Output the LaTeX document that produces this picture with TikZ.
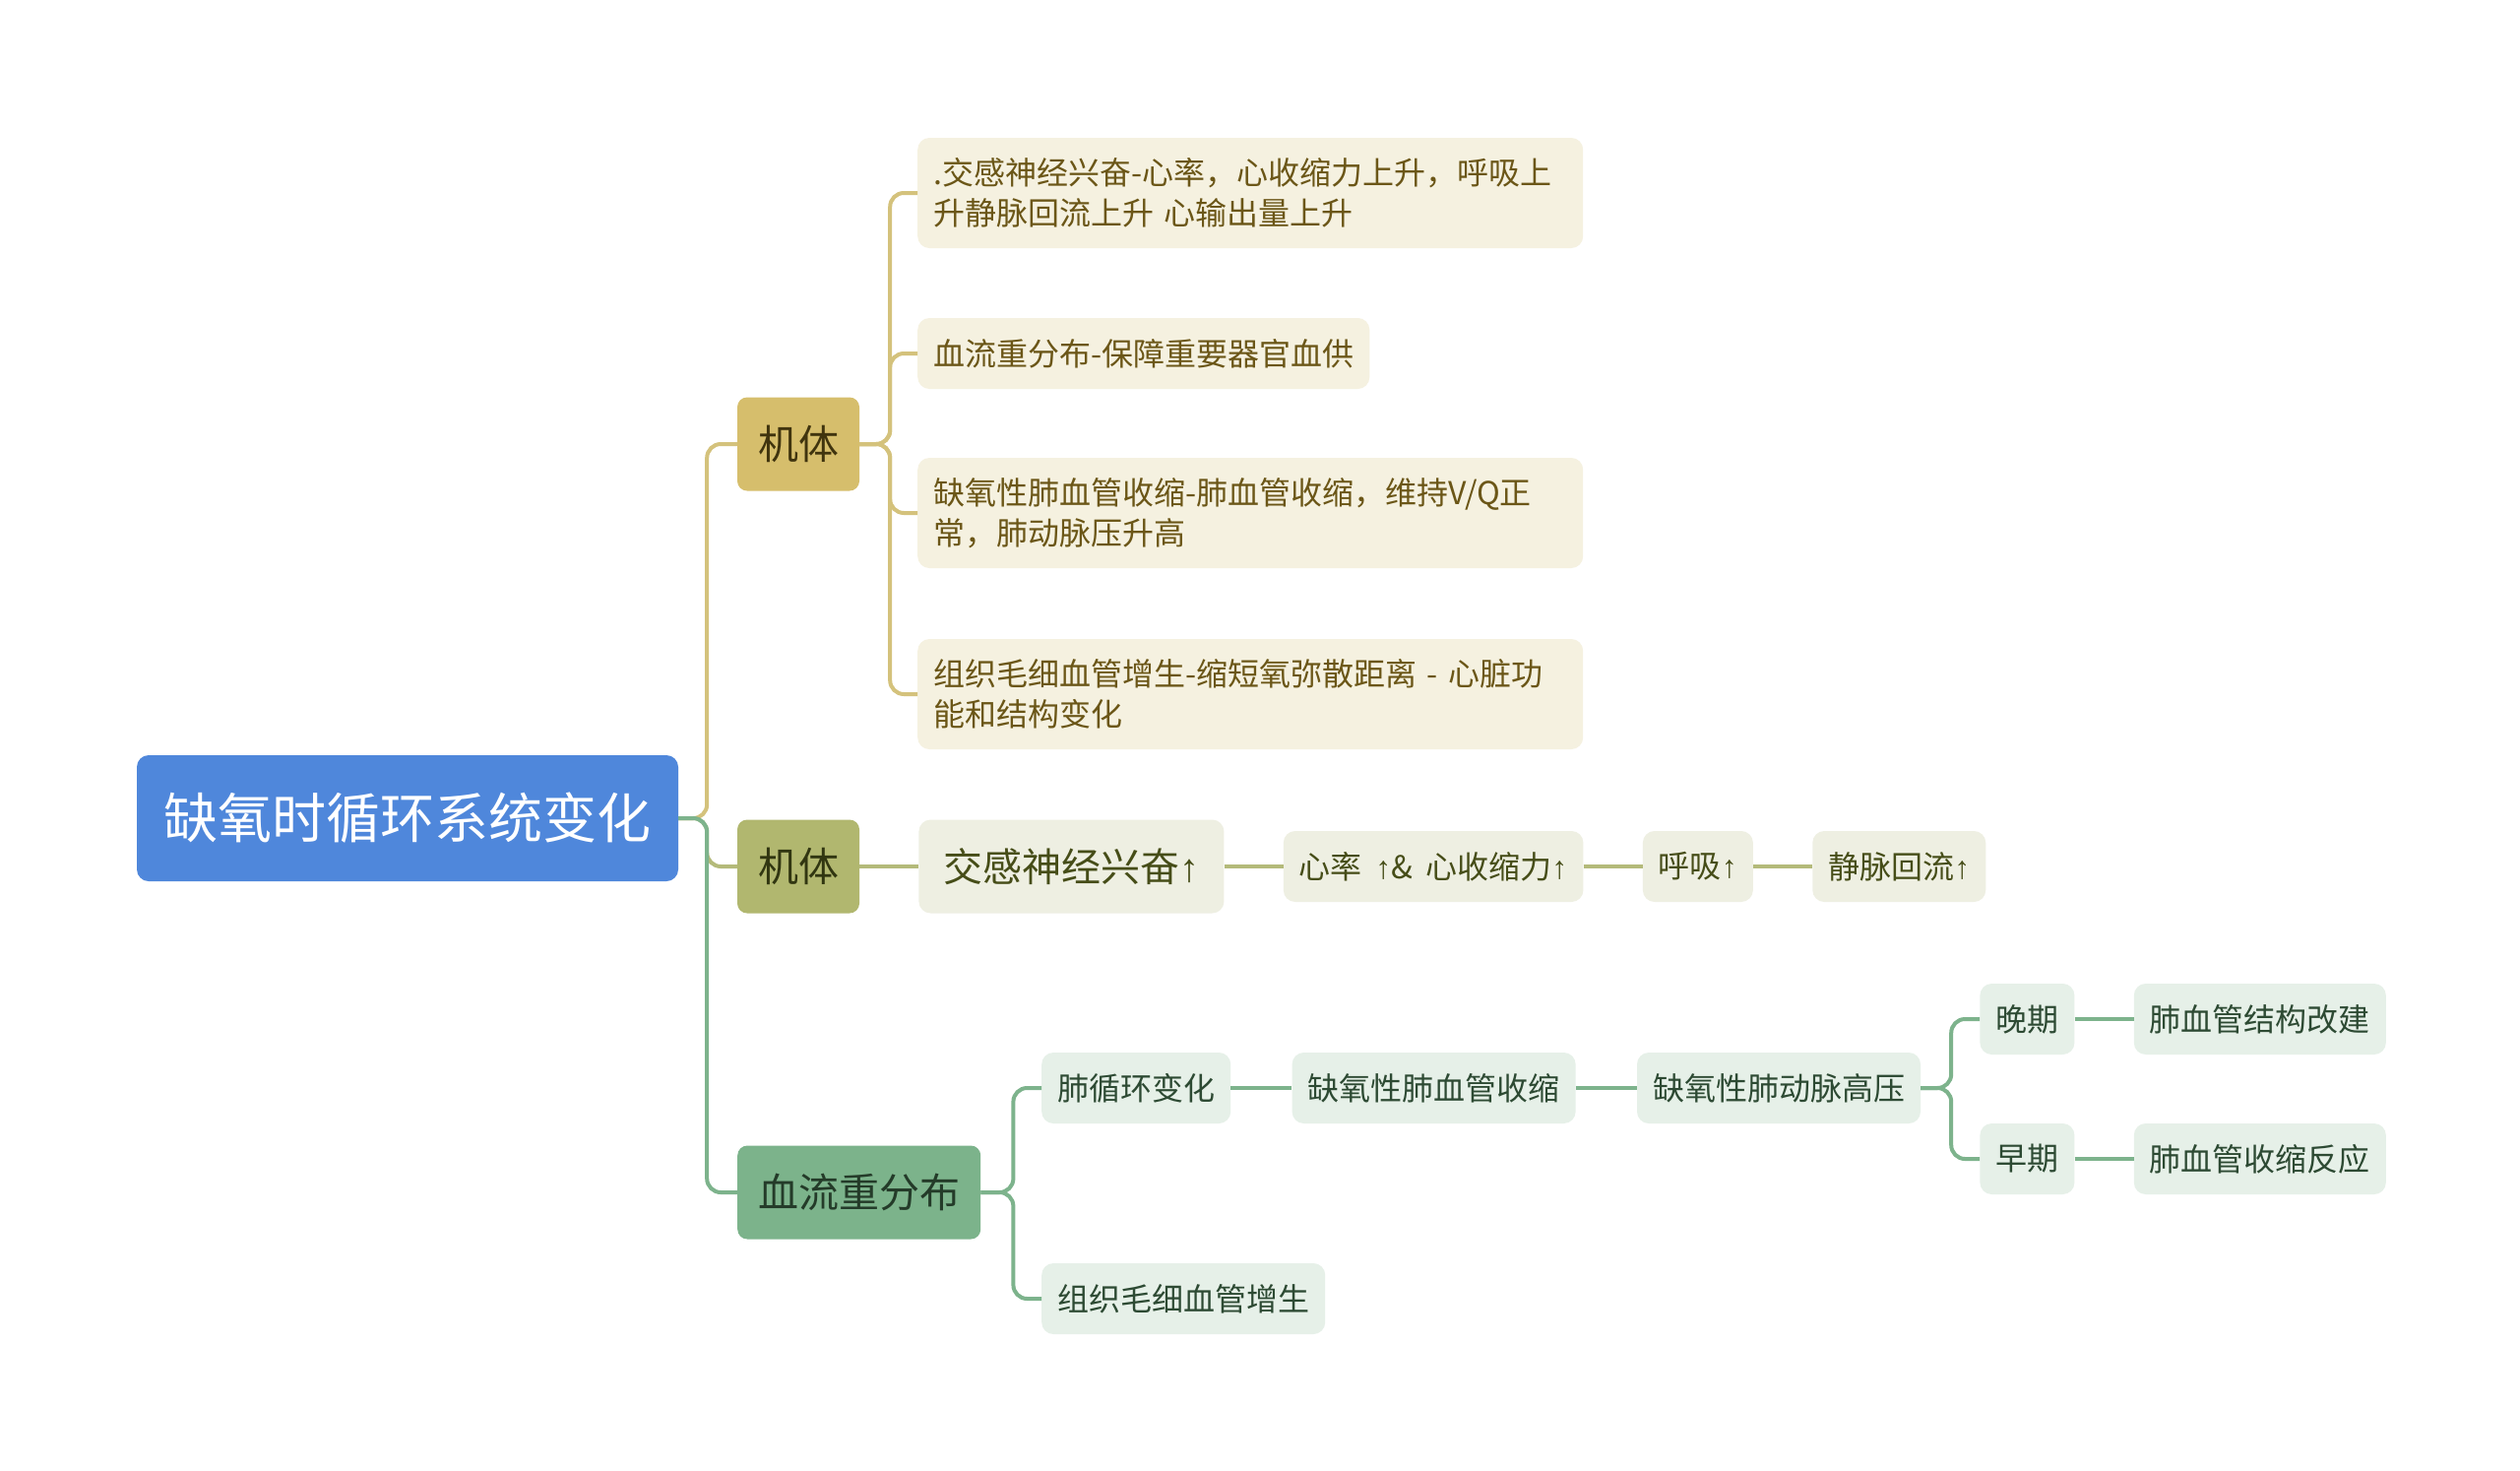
\documentclass[tikz,border=0pt]{standalone}
\usepackage{fontspec}
\setmainfont{Noto Sans CJK SC}
\newfontfamily\arrfont{Liberation Sans}
\newcommand\uparr{{\arrfont ↑}}
\usetikzlibrary{positioning}

\definecolor{rootc}{HTML}{4F87DB}
\definecolor{ba}{HTML}{D6BE6C}
\definecolor{bb}{HTML}{B1B76F}
\definecolor{bc}{HTML}{7CB38B}
\definecolor{ga}{HTML}{D4C27C}
\definecolor{gb}{HTML}{B4BA7A}
\definecolor{gc}{HTML}{7DB38C}
\definecolor{fa}{HTML}{F5F1E0}
\definecolor{fb}{HTML}{EEEFE2}
\definecolor{fc}{HTML}{E6F0E8}
\definecolor{ta}{HTML}{6B5617}
\definecolor{tb}{HTML}{464D18}
\definecolor{tc}{HTML}{2D4A33}

\begin{document}
\begin{tikzpicture}[x=1pt, y=-1pt,
  top/.style={fill=rootc, rounded corners=12pt, text=white, inner sep=0pt,
              minimum width=550pt, minimum height=128pt,
              font=\fontsize{55}{60}\selectfont},
  br/.style={rounded corners=10pt, inner xsep=21pt, minimum height=95pt,
             font=\fontsize{41}{48}\selectfont},
  lf/.style={rounded corners=12pt, inner xsep=16pt, minimum height=72pt,
             font=\fontsize{32}{41}\selectfont},
  lfa/.style={lf, fill=fa, text=ta},
  lfb/.style={lf, fill=fb, text=tb},
  lfc/.style={lf, fill=fc, text=tc},
  wide/.style={text width=644pt, align=left, minimum height=112pt},
  la/.style={draw=ga, line width=4pt, rounded corners=14pt},
  lb/.style={draw=gb, line width=4pt, rounded corners=14pt},
  lc/.style={draw=gc, line width=4pt, rounded corners=14pt}
]
\fill[white] (0,0) rectangle (2560,1494);
\useasboundingbox (0,0) rectangle (2560,1494);

\node[top] (root) at (414,831) {缺氧时循环系统变化};
\node[br, fill=ba, text=ta!60!black] (b1) at (811,451) {机体};
\node[br, fill=bb, text=tb!70!black] (b2) at (811,880) {机体};
\node[br, fill=bc, text=tc!80!black, anchor=west] (b3) at (749,1211) {血流重分布};

% branch 1
\node[lfa, wide, anchor=west] (c1) at (932,196)
  {.交感神经兴奋-心率，心收缩力上升，呼吸上\\升静脉回流上升 心输出量上升};
\node[lfa, anchor=west] (c2) at (932,359) {血流重分布-保障重要器官血供};
\node[lfa, wide, anchor=west] (c3) at (932,521)
  {缺氧性肺血管收缩-肺血管收缩，维持V/Q正\\常，肺动脉压升高};
\node[lfa, wide, anchor=west] (c4) at (932,705)
  {组织毛细血管增生-缩短氧弥散距离 - 心脏功\\能和结构变化};

% branch 2
\node[lfb, right=60pt of b2, inner xsep=25pt, minimum height=95pt,
      font=\fontsize{40}{48}\selectfont] (n1) {交感神经兴奋\uparr};
\node[lfb, right=60pt of n1] (n2)
  {心率\hspace{0.42em}\uparr\&\hspace{0.42em}心收缩力\uparr};
\node[lfb, right=60pt of n2] (n3) {呼吸\uparr};
\node[lfb, right=60pt of n3] (n4) {静脉回流\uparr};

% branch 3
\node[lfc, anchor=west] (p1) at (1058,1105) {肺循环变化};
\node[lfc, right=62pt of p1] (p2) {缺氧性肺血管收缩};
\node[lfc, right=62pt of p2] (p3) {缺氧性肺动脉高压};
\node[lfc, right=60pt of p3, yshift=70pt] (late) {晚期};
\node[lfc, right=60pt of p3, yshift=-72pt] (early) {早期};
\node[lfc, right=60pt of late] (r1) {肺血管结构改建};
\node[lfc, right=60pt of early] (r2) {肺血管收缩反应};
\node[lfc, anchor=west] (p5) at (1058,1319) {组织毛细血管增生};

\coordinate[right=29pt of root] (s0);
\coordinate[right=31pt of b1] (s1);
\coordinate[right=33pt of b3] (s3);
\coordinate[right=31pt of p3] (s4);

\draw[la] (root) -- (s0) |- (b1);
\draw[lb] (root) -- (s0) |- (b2);
\draw[lc] (root) -- (s0) |- (b3);

\foreach \c in {c1,c2,c3,c4}
  \draw[la] (b1) -- (s1) |- (\c);

\draw[lb] (b2) -- (n1);
\draw[lb] (n1) -- (n2);
\draw[lb] (n2) -- (n3);
\draw[lb] (n3) -- (n4);

\draw[lc] (b3) -- (s3) |- (p1);
\draw[lc] (b3) -- (s3) |- (p5);
\draw[lc] (p1) -- (p2);
\draw[lc] (p2) -- (p3);
\draw[lc] (p3) -- (s4) |- (late);
\draw[lc] (p3) -- (s4) |- (early);
\draw[lc] (late) -- (r1);
\draw[lc] (early) -- (r2);
\end{tikzpicture}
\end{document}
